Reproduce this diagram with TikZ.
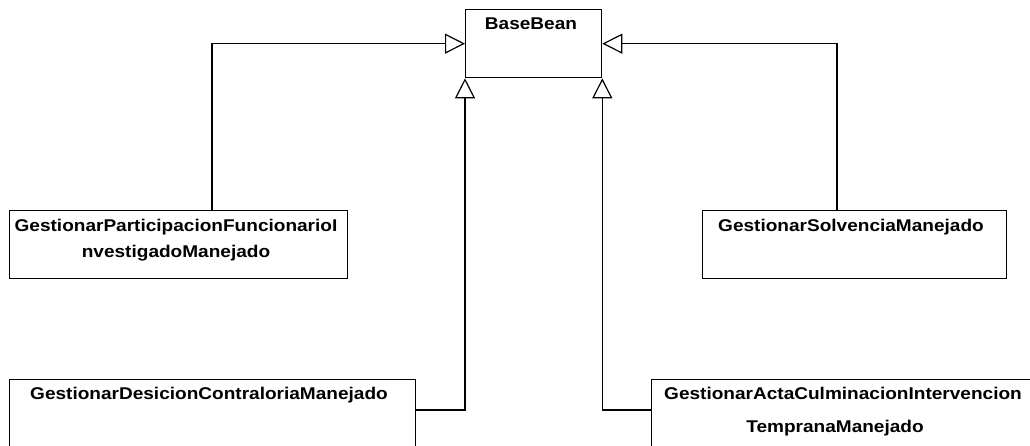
\documentclass[tikz,border=0pt]{standalone}
\usepackage{fontspec}
\setmainfont{Liberation Sans}[FakeStretch=1.12]
\usetikzlibrary{arrows.meta}
\tikzset{
  cls/.style={draw=black, line width=1.3pt, fill=white, inner sep=0pt, anchor=north west},
  lbl/.style={font=\bfseries\fontsize{17}{20}\selectfont, inner sep=0pt, anchor=base},
  gen/.style={draw=black, line width=1.2pt, -{Triangle[open, length=20pt, width=20pt, line width=1.2pt]}}
}
\begin{document}
\begin{tikzpicture}[x=1pt,y=-1pt]
\useasboundingbox (0,0) rectangle (1030,445);
\clip (0,0) rectangle (1030,445);
% boxes
\node[cls, minimum width=136pt, minimum height=68pt] (base) at (465,9) {};
\node[cls, minimum width=338pt, minimum height=68pt] (p1) at (9,210) {};
\node[cls, minimum width=304pt, minimum height=68pt] (solv) at (702,210) {};
\node[cls, minimum width=406pt, minimum height=90pt] (desi) at (9,379) {};
\node[cls, minimum width=400pt, minimum height=90pt] (acta) at (651,379) {};
% labels
\node[lbl] (tbase) at (531,29) {BaseBean};
\node[lbl] (tp1a) at (176,231) {GestionarParticipacionFuncionarioI};
\node[lbl] (tp1b) at (176,257) {nvestigadoManejado};
\node[lbl] (tsolv) at (851,231) {GestionarSolvenciaManejado};
\node[lbl] (tdesi) at (209,399) {GestionarDesicionContraloriaManejado};
\node[lbl] (tacta) at (843,399) {GestionarActaCulminacionIntervencion};
\node[lbl] (tactb) at (835,432) {TempranaManejado};
% connector anchors
\coordinate (c1) at (212,210);
\coordinate (c2) at (837,210);
\coordinate (c3) at (415,410);
\coordinate (c4) at (651,410);
% generalisations
\draw[gen] (c1) |- (base.west);
\draw[gen] (c2) |- (base.east);
\draw[gen] (c3) -| (base.south west);
\draw[gen] (c4) -| (base.south east);
\end{tikzpicture}
\end{document}
